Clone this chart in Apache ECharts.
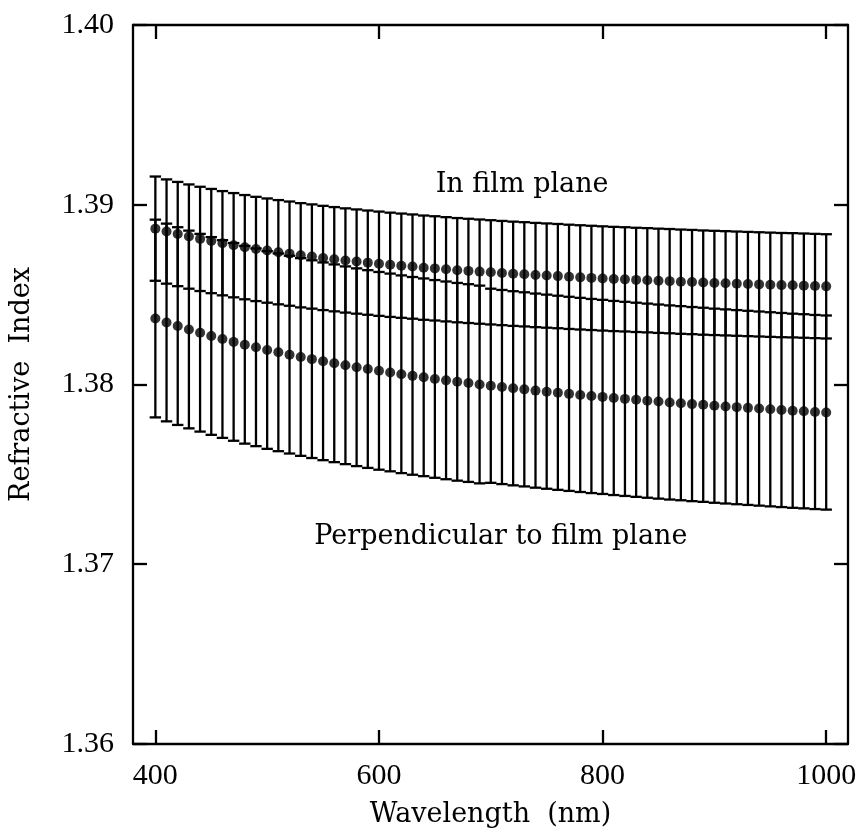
<!DOCTYPE html>
<html>
<head>
<meta charset="utf-8">
<script src="https://cdn.jsdelivr.net/npm/echarts@6/dist/echarts.min.js"></script>
<style>
  html, body { margin: 0; padding: 0; background: #ffffff; }
  #chart { width: 861px; height: 838px; }
</style>
</head>
<body>
<div id="chart"></div>
<script>
// Wavelength grid (nm)
const wavelengths = [
  400, 410, 420, 430, 440, 450, 460, 470, 480, 490,
  500, 510, 520, 530, 540, 550, 560, 570, 580, 590,
  600, 610, 620, 630, 640, 650, 660, 670, 680, 690,
  700, 710, 720, 730, 740, 750, 760, 770, 780, 790,
  800, 810, 820, 830, 840, 850, 860, 870, 880, 890,
  900, 910, 920, 930, 940, 950, 960, 970, 980, 990, 1000
];

// Refractive index in the film plane
const inPlane = [
  1.38867, 1.38851, 1.38837, 1.38823, 1.38810, 1.38798, 1.38786, 1.38775, 1.38764, 1.38754,
  1.38745, 1.38736, 1.38728, 1.38719, 1.38712, 1.38704, 1.38697, 1.38690, 1.38684, 1.38678,
  1.38672, 1.38666, 1.38661, 1.38656, 1.38650, 1.38646, 1.38641, 1.38636, 1.38632, 1.38628,
  1.38624, 1.38620, 1.38616, 1.38613, 1.38609, 1.38606, 1.38603, 1.38599, 1.38596, 1.38593,
  1.38590, 1.38587, 1.38585, 1.38582, 1.38580, 1.38577, 1.38575, 1.38572, 1.38570, 1.38567,
  1.38565, 1.38563, 1.38561, 1.38559, 1.38557, 1.38555, 1.38553, 1.38552, 1.38550, 1.38548, 1.38546
];
const inPlaneErr = [
  0.0029, 0.0029, 0.0029, 0.0029, 0.0029, 0.0029, 0.0029, 0.0029, 0.0029, 0.0029,
  0.0029, 0.0029, 0.0029, 0.0029, 0.0029, 0.0029, 0.0029, 0.0029, 0.0029, 0.0029,
  0.0029, 0.0029, 0.0029, 0.0029, 0.0029, 0.0029, 0.0029, 0.0029, 0.0029, 0.0029,
  0.0029, 0.0029, 0.0029, 0.0029, 0.0029, 0.0029, 0.0029, 0.0029, 0.0029, 0.0029,
  0.0029, 0.0029, 0.0029, 0.0029, 0.0029, 0.0029, 0.0029, 0.0029, 0.0029, 0.0029,
  0.0029, 0.0029, 0.0029, 0.0029, 0.0029, 0.0029, 0.0029, 0.0029, 0.0029, 0.0029, 0.0029
];

// Refractive index perpendicular to the film plane
const perpendicular = [
  1.38367, 1.38345, 1.38325, 1.38306, 1.38288, 1.38270, 1.38253, 1.38237, 1.38221, 1.38207,
  1.38192, 1.38179, 1.38166, 1.38153, 1.38141, 1.38129, 1.38118, 1.38107, 1.38096, 1.38086,
  1.38076, 1.38067, 1.38057, 1.38048, 1.38040, 1.38031, 1.38023, 1.38015, 1.38008, 1.38000,
  1.37993, 1.37986, 1.37979, 1.37973, 1.37966, 1.37960, 1.37954, 1.37948, 1.37942, 1.37936,
  1.37931, 1.37925, 1.37920, 1.37915, 1.37910, 1.37905, 1.37900, 1.37896, 1.37891, 1.37887,
  1.37882, 1.37878, 1.37874, 1.37870, 1.37866, 1.37862, 1.37858, 1.37854, 1.37851, 1.37847, 1.37844
];
const perpendicularErr = [
  0.0055, 0.0055, 0.0055, 0.0055, 0.0055, 0.0055, 0.0055, 0.0055, 0.0055, 0.0055,
  0.0055, 0.0055, 0.0055, 0.0055, 0.0055, 0.0055, 0.0055, 0.0055, 0.0055, 0.0055,
  0.0055, 0.0055, 0.0055, 0.0055, 0.0055, 0.0055, 0.0055, 0.0055, 0.0055, 0.0055,
  0.0054, 0.0054, 0.0054, 0.0054, 0.0054, 0.0054, 0.0054, 0.0054, 0.0054, 0.0054,
  0.0054, 0.0054, 0.0054, 0.0054, 0.0054, 0.0054, 0.0054, 0.0054, 0.0054, 0.0054,
  0.0054, 0.0054, 0.0054, 0.0054, 0.0054, 0.0054, 0.0054, 0.0054, 0.0054, 0.0054, 0.0054
];

// Axis ticks
const xTicks = [400, 600, 800, 1000];
const yTicks = [1.36, 1.37, 1.38, 1.39, 1.40];

const INK = '#000000';
const tickFont = { fontFamily: 'Liberation Serif', fontSize: 30, color: INK };
const titleFont = 'DejaVu Serif';

function pairs(values) {
  return wavelengths.map((w, i) => [w, values[i]]);
}
function bars(values, errs) {
  return wavelengths.map((w, i) => [w, values[i] - errs[i], values[i] + errs[i]]);
}

// Vertical error bar with horizontal caps at both ends
function errorBarItem(params, api) {
  const x = api.value(0);
  const lo = api.coord([x, api.value(1)]);
  const hi = api.coord([x, api.value(2)]);
  const hw = 5.7;
  const style = { stroke: INK, lineWidth: 2.3 };
  return {
    type: 'group',
    children: [
      { type: 'line', shape: { x1: lo[0], y1: lo[1], x2: hi[0], y2: hi[1] }, style },
      { type: 'line', shape: { x1: hi[0] - hw, y1: hi[1], x2: hi[0] + hw, y2: hi[1] }, style },
      { type: 'line', shape: { x1: lo[0] - hw, y1: lo[1], x2: lo[0] + hw, y2: lo[1] }, style }
    ]
  };
}

const axisLineStyle = { show: true, onZero: false, lineStyle: { color: INK, width: 2.3 } };
const tickStyle = { show: true, inside: true, length: 14, lineStyle: { color: INK, width: 2.3 } };

const chart = echarts.init(document.getElementById('chart'), null, { renderer: 'canvas' });

chart.setOption({
  backgroundColor: '#ffffff',
  animation: false,
  grid: { left: 131, right: 13, top: 25, bottom: 94 },
  xAxis: [
    {
      type: 'value', position: 'bottom', min: 380, max: 1019.5,
      name: 'Wavelength  (nm)', nameLocation: 'middle', nameGap: 57,
      nameTextStyle: { fontFamily: titleFont, fontSize: 27, color: INK },
      axisLine: axisLineStyle,
      axisTick: Object.assign({ customValues: xTicks }, tickStyle),
      axisLabel: Object.assign({ customValues: xTicks, margin: 17, formatter: v => String(v) }, tickFont),
      splitLine: { show: false }
    },
    {
      type: 'value', position: 'top', min: 380, max: 1019.5,
      axisLine: axisLineStyle,
      axisTick: Object.assign({ customValues: xTicks }, tickStyle),
      axisLabel: { show: false },
      splitLine: { show: false }
    }
  ],
  yAxis: [
    {
      type: 'value', position: 'left', min: 1.36, max: 1.40, interval: 0.01,
      name: 'Refractive  Index', nameLocation: 'middle', nameGap: 98, nameRotate: 90,
      nameTextStyle: { fontFamily: titleFont, fontSize: 27, color: INK },
      axisLine: axisLineStyle,
      axisTick: tickStyle,
      axisLabel: Object.assign({ margin: 19, formatter: v => v.toFixed(2) }, tickFont),
      splitLine: { show: false }
    },
    {
      type: 'value', position: 'right', min: 1.36, max: 1.40, interval: 0.01,
      axisLine: axisLineStyle,
      axisTick: tickStyle,
      axisLabel: { show: false },
      splitLine: { show: false }
    }
  ],
  series: [
    {
      name: 'perpendicular-bars', type: 'custom', renderItem: errorBarItem,
      encode: { x: 0, y: [1, 2] }, data: bars(perpendicular, perpendicularErr), z: 2
    },
    {
      name: 'in-plane-bars', type: 'custom', renderItem: errorBarItem,
      encode: { x: 0, y: [1, 2] }, data: bars(inPlane, inPlaneErr), z: 2
    },
    {
      name: 'In film plane', type: 'scatter', symbol: 'circle', symbolSize: 10,
      itemStyle: { color: INK }, data: pairs(inPlane), z: 3
    },
    {
      name: 'Perpendicular to film plane', type: 'scatter', symbol: 'circle', symbolSize: 10,
      itemStyle: { color: INK }, data: pairs(perpendicular), z: 3
    }
  ]
});

// Curve labels placed in data coordinates
function placeLabel(text, wl, n) {
  const p = chart.convertToPixel({ xAxisIndex: 0, yAxisIndex: 0 }, [wl, n]);
  return {
    type: 'text', x: p[0], y: p[1],
    style: { text, fill: INK, font: '27px "DejaVu Serif"', textAlign: 'center', textVerticalAlign: 'middle' }
  };
}
chart.setOption({
  graphic: [
    placeLabel('In film plane', 728, 1.3911),
    placeLabel('Perpendicular to film plane', 709, 1.3715)
  ]
});
</script>
</body>
</html>
